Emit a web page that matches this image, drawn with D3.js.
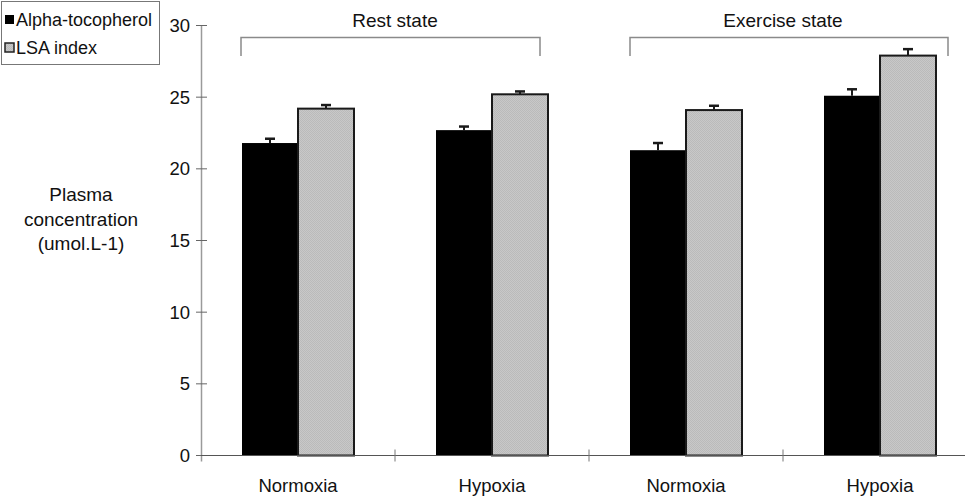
<html lang="en">
<head>
	<title>Plasma concentration</title>
	<script src="https://d3js.org/d3.v7.min.js" charset="utf-8"></script>
	<style>
		body { margin: 0; background: #fff; }
		text { font-family: "Liberation Sans", Arial, sans-serif; fill: #111; }
	</style>
</head>
<body>
	<script>
	// categories and series
	var categories = ["Normoxia", "Hypoxia", "Normoxia ", "Hypoxia "];
	var catLabels = ["Normoxia", "Hypoxia", "Normoxia", "Hypoxia"];
	var series = ["Alpha-tocopherol", "LSA index"];
	var alphaValues = [21.8, 22.7, 21.3, 25.1];
	var alphaErrors = [0.3, 0.25, 0.5, 0.45];
	var lsaValues = [24.2, 25.2, 24.1, 27.9];
	var lsaErrors = [0.25, 0.2, 0.3, 0.45];
	var yTicks = [0, 5, 10, 15, 20, 25, 30];
	// group brackets: label, first category, last category
	var groups = [
		{ label: "Rest state", from: 0, to: 1 },
		{ label: "Exercise state", from: 2, to: 3 }
	];

	var w = 965;
	var h = 497;

	var svg = d3.select("body")
		.append("svg")
		.attr("width", w)
		.attr("height", h);

	// gray dotted texture for the LSA bars
	var defs = svg.append("defs");
	var pat = defs.append("pattern")
		.attr("id", "dots")
		.attr("width", 2)
		.attr("height", 2)
		.attr("patternUnits", "userSpaceOnUse");
	pat.append("rect").attr("width", 2).attr("height", 2).attr("fill", "#c8c8c8");
	pat.append("rect").attr("width", 1).attr("height", 1).attr("fill", "#bababa");
	pat.append("rect").attr("x", 1).attr("y", 1).attr("width", 1).attr("height", 1).attr("fill", "#bababa");

	var x0 = d3.scaleBand()
		.domain(categories)
		.range([201, 977])
		.padding(0);

	var x1 = d3.scaleBand()
		.domain(series)
		.range([41, 153]);

	var y = d3.scaleLinear()
		.domain([0, 30])
		.range([455.5, 25.5]);

	var data = categories.map(function(c, i) {
		return [
			{ cat: c, s: series[0], v: alphaValues[i], e: alphaErrors[i] },
			{ cat: c, s: series[1], v: lsaValues[i], e: lsaErrors[i] }
		];
	});
	var flat = [].concat.apply([], data);

	// bars
	svg.selectAll("rect.bar")
		.data(flat)
		.enter()
		.append("rect")
		.attr("class", "bar")
		.attr("x", function(d) { return x0(d.cat) + x1(d.s); })
		.attr("y", function(d) { return y(d.v); })
		.attr("width", x1.bandwidth())
		.attr("height", function(d) { return y(0) - y(d.v); })
		.attr("fill", function(d) { return d.s === series[0] ? "#000" : "url(#dots)"; })
		.attr("stroke", "#1a1a1a")
		.attr("stroke-width", function(d) { return d.s === series[0] ? 0 : 2; });

	// error bars
	var eb = svg.selectAll("g.err")
		.data(flat)
		.enter()
		.append("g")
		.attr("class", "err")
		.attr("stroke", "#1a1a1a")
		.attr("stroke-width", 2);
	eb.append("line")
		.attr("x1", function(d) { return x0(d.cat) + x1(d.s) + x1.bandwidth() / 2; })
		.attr("x2", function(d) { return x0(d.cat) + x1(d.s) + x1.bandwidth() / 2; })
		.attr("y1", function(d) { return y(d.v); })
		.attr("y2", function(d) { return y(d.v + d.e); });
	eb.append("line")
		.attr("x1", function(d) { return x0(d.cat) + x1(d.s) + x1.bandwidth() / 2 - 5; })
		.attr("x2", function(d) { return x0(d.cat) + x1(d.s) + x1.bandwidth() / 2 + 5; })
		.attr("y1", function(d) { return y(d.v + d.e); })
		.attr("y2", function(d) { return y(d.v + d.e); })
		.attr("stroke-width", 2.5);

	// y axis
	svg.append("line")
		.attr("x1", 201.5).attr("x2", 201.5)
		.attr("y1", y(30)).attr("y2", y(0) + 6)
		.attr("stroke", "#9a9a9a")
		.attr("stroke-width", 1.5);
	svg.selectAll("line.ytick")
		.data(yTicks)
		.enter()
		.append("line")
		.attr("class", "ytick")
		.attr("x1", 196).attr("x2", 207)
		.attr("y1", function(d) { return y(d); })
		.attr("y2", function(d) { return y(d); })
		.attr("stroke", "#666")
		.attr("stroke-width", 1);
	svg.selectAll("text.ylab")
		.data(yTicks)
		.enter()
		.append("text")
		.attr("class", "ylab")
		.attr("x", 190)
		.attr("y", function(d) { return y(d); })
		.attr("dy", "0.36em")
		.attr("text-anchor", "end")
		.style("font-size", "18.5px")
		.text(function(d) { return d; });

	// x axis
	svg.append("line")
		.attr("x1", 201).attr("x2", 977)
		.attr("y1", y(0)).attr("y2", y(0))
		.attr("stroke", "#555")
		.attr("stroke-width", 1);
	svg.selectAll("line.xtick")
		.data(categories.slice(1))
		.enter()
		.append("line")
		.attr("class", "xtick")
		.attr("x1", function(d) { return x0(d); })
		.attr("x2", function(d) { return x0(d); })
		.attr("y1", y(0) - 6).attr("y2", y(0) + 6)
		.attr("stroke", "#777")
		.attr("stroke-width", 1);
	svg.selectAll("text.xlab")
		.data(categories)
		.enter()
		.append("text")
		.attr("class", "xlab")
		.attr("x", function(d) { return x0(d) + x0.bandwidth() / 2; })
		.attr("y", 492)
		.attr("text-anchor", "middle")
		.style("font-size", "18.5px")
		.text(function(d, i) { return catLabels[i]; });

	// group brackets
	var bw = x0.bandwidth();
	var br = svg.selectAll("g.bracket")
		.data(groups)
		.enter()
		.append("g")
		.attr("class", "bracket");
	br.append("path")
		.attr("d", function(d, i) {
			var a = x0(categories[d.from]) + 40 + i * 1;
			var b = x0(categories[d.to]) + 145 + i * 20;
			return "M" + a + ",56V37.5H" + b + "V56";
		})
		.attr("fill", "none")
		.attr("stroke", "#8a8a8a")
		.attr("stroke-width", 1.5);
	br.append("text")
		.attr("x", function(d) { return (x0(categories[d.from]) + x0(categories[d.to]) + bw) / 2; })
		.attr("y", 27)
		.attr("text-anchor", "middle")
		.style("font-size", "19px")
		.text(function(d) { return d.label; });

	// y axis title
	var ytitle = ["Plasma", "concentration", "(umol.L-1)"];
	svg.selectAll("text.ytitle")
		.data(ytitle)
		.enter()
		.append("text")
		.attr("class", "ytitle")
		.attr("x", 81)
		.attr("y", function(d, i) { return 201 + i * 24.5; })
		.attr("text-anchor", "middle")
		.style("font-size", "19px")
		.text(function(d) { return d; });

	// legend
	var lg = svg.append("g");
	lg.append("rect")
		.attr("x", 1.5).attr("y", 1.5)
		.attr("width", 158).attr("height", 63)
		.attr("fill", "#fff")
		.attr("stroke", "#777")
		.attr("stroke-width", 1);
	var items = lg.selectAll("g.item")
		.data(series)
		.enter()
		.append("g")
		.attr("class", "item")
		.attr("transform", function(d, i) { return "translate(5," + (15 + i * 28) + ")"; });
	items.append("rect")
		.attr("width", 9).attr("height", 9)
		.attr("fill", function(d, i) { return i === 0 ? "#000" : "url(#dots)"; })
		.attr("stroke", "#222")
		.attr("stroke-width", function(d, i) { return i === 0 ? 0 : 1.5; });
	items.append("text")
		.attr("x", 11)
		.attr("y", 4.5)
		.attr("dy", "0.36em")
		.style("font-size", "18px")
		.text(function(d) { return d; });
	</script>
</body>
</html>
